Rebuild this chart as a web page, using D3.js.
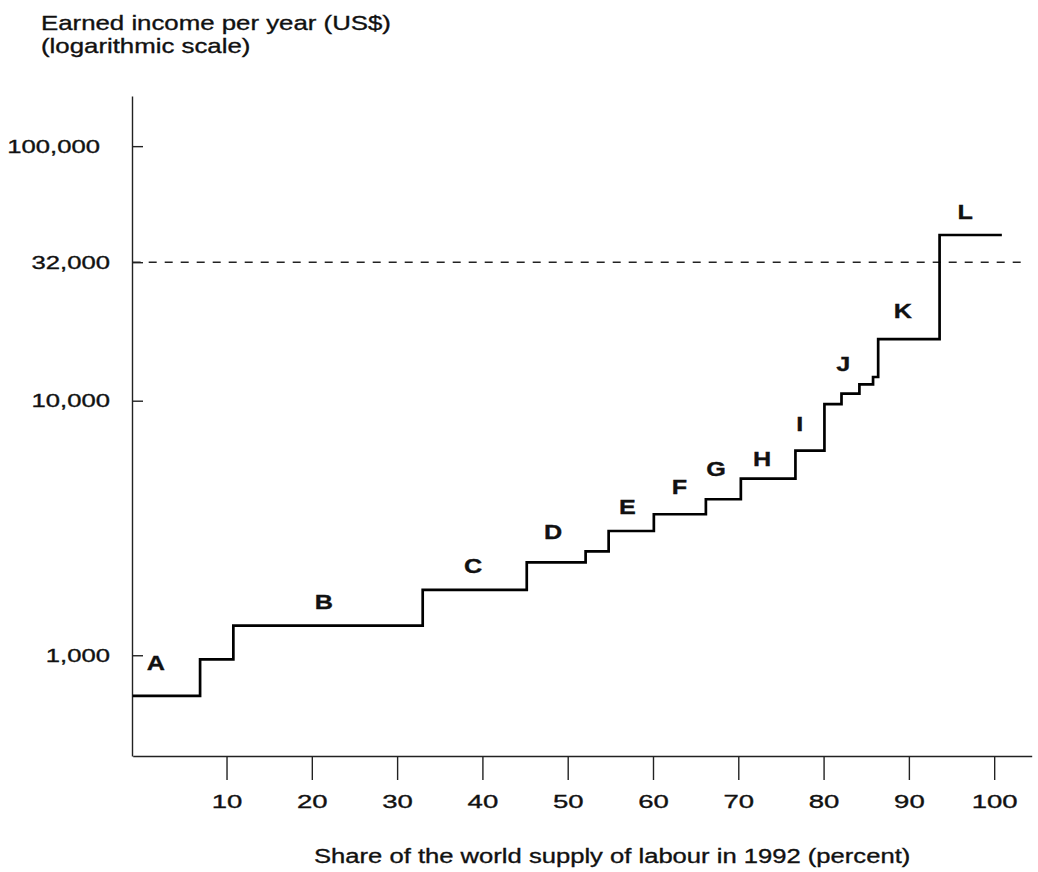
<!DOCTYPE html>
<html>
<head>
<meta charset="utf-8">
<script src="https://cdn.jsdelivr.net/npm/d3@7"></script>
<style>
  body { margin: 0; background: #fff; }
  text { font-family: "Liberation Sans", Arial, sans-serif; fill: #111; stroke: #111; stroke-width: 0.35px; }
</style>
</head>
<body>
<div id="chart"></div>
<script>
// each step starts at a cumulative share of world labour (%) and has one income level (US$)
var shareFrom = [-1, 6.9, 10.8, 33.0, 45.2, 52.1, 54.8, 60.1, 66.2, 70.3, 76.7, 80.1, 82.1, 84.2, 85.8, 86.4, 93.6];
var income    = [692, 964, 1307, 1805, 2318, 2557, 3077, 3580, 4100, 4940, 6362, 9700, 10670, 11600, 12390, 17470, 44770];
var shareEnd  = 100.9;

// group letters, placed in data space
var groupLetters = ["A", "B", "C", "D", "E", "F", "G", "H", "I", "J", "K", "L"];
var letterShare  = [1.7, 21.4, 38.9, 48.3, 57.0, 63.1, 67.4, 72.8, 77.2, 82.3, 89.3, 96.6];
var letterIncome = [933, 1620, 2263, 3055, 3858, 4623, 5430, 5955, 8153, 14030, 22570, 55260];

// ticks
var xTicks = [10, 20, 30, 40, 50, 60, 70, 80, 90, 100];
var yTicks = [1000, 10000, 35000, 100000];
var yTickLabels = ["1,000", "10,000", "32,000", "100,000"];
var refIncome = 35000; // the original draws its "32,000" dashed line at this height

var width = 1038, height = 872;

var svg = d3.select("#chart")
  .append("svg")
    .attr("width", width)
    .attr("height", height);

var x = d3.scaleLinear().domain([-1, 104.4]).range([132.7, 1031.7]);
var y = d3.scaleLog().domain([402, 157400]).range([756, 96]);

// stretch text horizontally (the scanned type is wide)
function stretch(sel, k) {
  sel.each(function () {
    var t = d3.select(this);
    var tx = +t.attr("x") || 0;
    t.attr("x", tx / k).attr("transform", "scale(" + k + ",1)");
  });
}

// x axis
var xAxis = svg.append("g")
  .attr("transform", "translate(0,756)")
  .call(d3.axisBottom(x).tickValues(xTicks).tickSize(24).tickSizeOuter(0).tickPadding(15))
  .attr("font-family", null)
  .attr("font-size", null);
xAxis.selectAll("text").style("font-size", "19px");
stretch(xAxis.selectAll("text"), 1.45);

// y axis, ticks point inward
var yAxis = svg.append("g")
  .attr("transform", "translate(132,0)")
  .call(d3.axisLeft(y).tickValues(yTicks)
    .tickFormat(function (d, i) { return yTickLabels[i]; })
    .tickSize(-11).tickSizeOuter(0).tickPadding(22))
  .attr("font-family", null)
  .attr("font-size", null);
yAxis.selectAll("text")
  .style("font-size", "19px")
  .attr("x", function (d) { return d === 100000 ? -32 : -22; });
stretch(yAxis.selectAll("text"), 1.35);

svg.selectAll(".domain").attr("stroke", "#222").attr("stroke-width", 1.4);
svg.selectAll(".tick line").attr("stroke", "#222").attr("stroke-width", 1.4);

// dashed reference line
svg.append("line")
  .attr("x1", x.range()[0])
  .attr("x2", x(103.7))
  .attr("y1", y(refIncome))
  .attr("y2", y(refIncome))
  .attr("stroke", "#222")
  .attr("stroke-width", 1.4)
  .attr("stroke-dasharray", "8,8");

// step curve
var pts = shareFrom.map(function (s, i) { return [s, income[i]]; });
pts.push([shareEnd, income[income.length - 1]]);

var line = d3.line()
  .x(function (d) { return x(d[0]); })
  .y(function (d) { return y(d[1]); })
  .curve(d3.curveStepAfter);

svg.append("path")
  .datum(pts)
  .attr("d", line)
  .attr("fill", "none")
  .attr("stroke", "#000")
  .attr("stroke-width", 2.7);

// group letters
svg.selectAll("text.grp")
  .data(groupLetters)
  .enter()
  .append("text")
    .attr("class", "grp")
    .attr("transform", function (d, i) {
      return "translate(" + x(letterShare[i]) + "," + y(letterIncome[i]) + ") scale(1.2,1)";
    })
    .attr("text-anchor", "middle")
    .attr("dy", "0.36em")
    .style("font-weight", "bold")
    .style("font-size", "21px")
    .text(function (d) { return d; });

// titles
svg.append("text")
  .attr("transform", "translate(41,30) scale(1.23,1)")
  .style("font-size", "21px")
  .text("Earned income per year (US$)");

svg.append("text")
  .attr("transform", "translate(41,53) scale(1.23,1)")
  .style("font-size", "21px")
  .text("(logarithmic scale)");

svg.append("text")
  .attr("transform", "translate(314,863) scale(1.22,1)")
  .style("font-size", "21px")
  .text("Share of the world supply of labour in 1992 (percent)");
</script>
</body>
</html>
